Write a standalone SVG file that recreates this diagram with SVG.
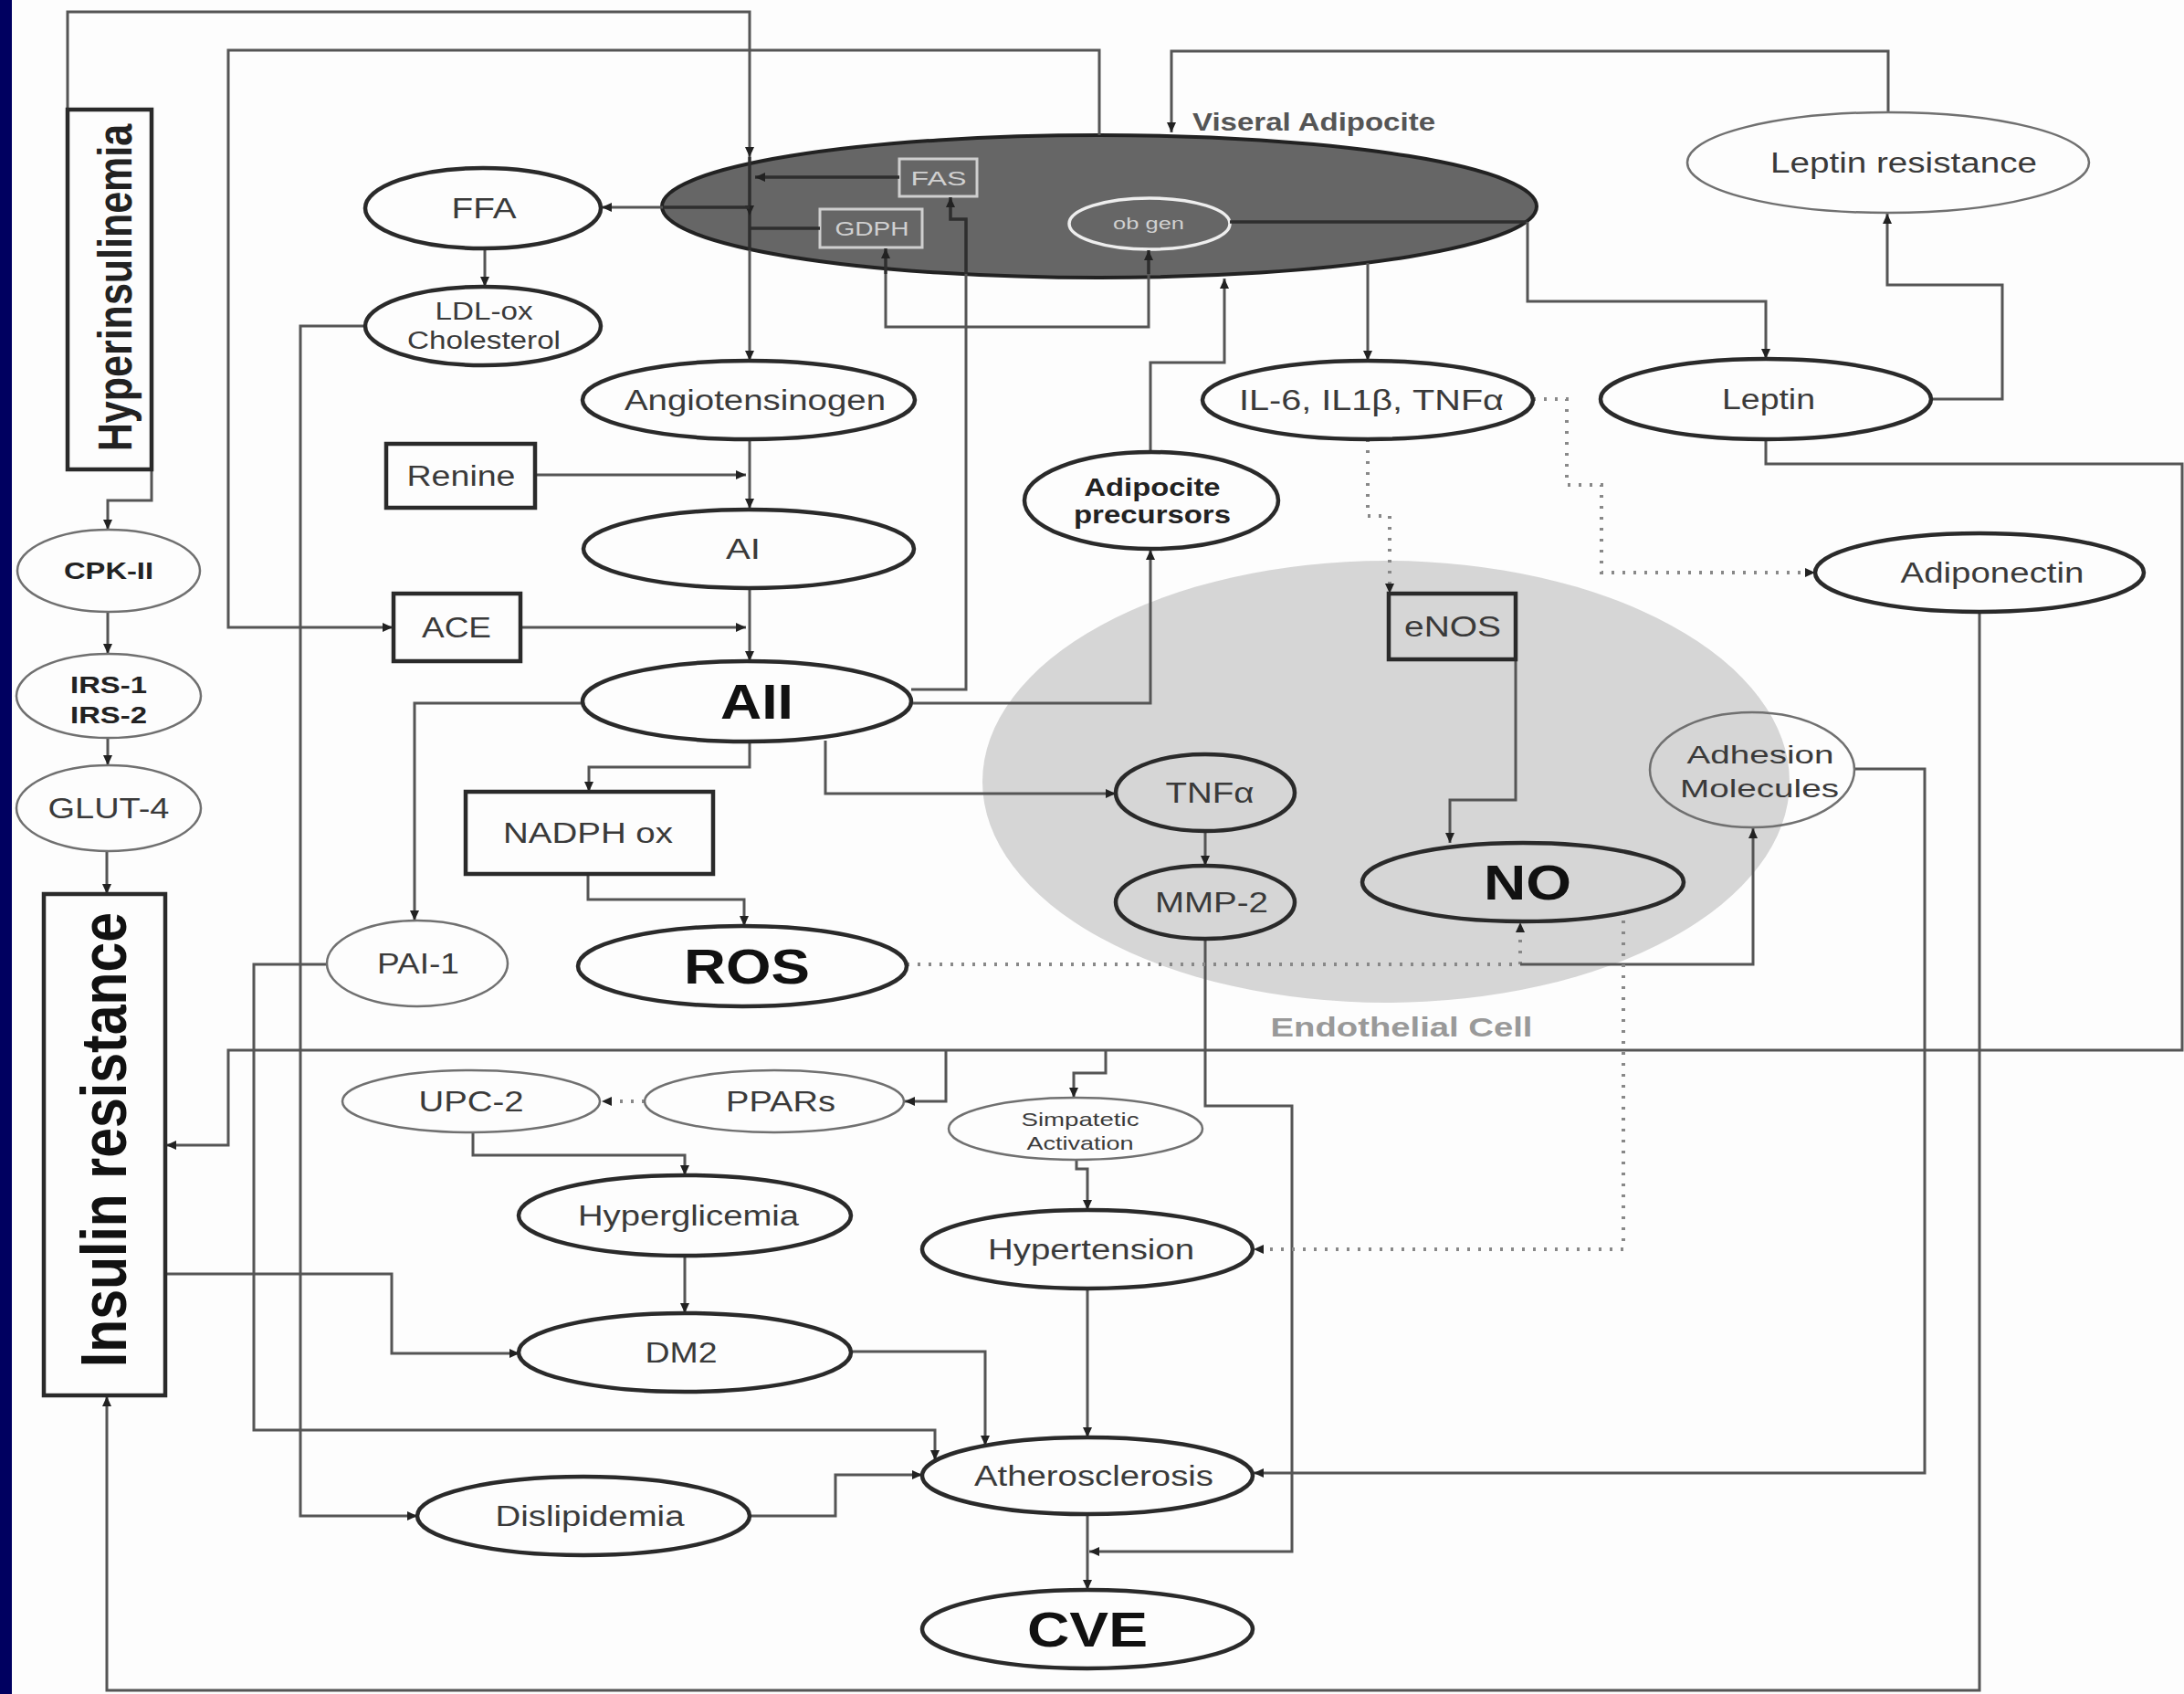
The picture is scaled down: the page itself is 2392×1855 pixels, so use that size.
<svg xmlns="http://www.w3.org/2000/svg" width="2392" height="1855" viewBox="0 0 2392 1855">
<defs>
<marker id="ar" markerUnits="userSpaceOnUse" markerWidth="12" markerHeight="12" refX="11" refY="6" orient="auto-start-reverse"><path d="M0,1 L11,6 L0,11 z" fill="#222"/></marker>
<style>
.bg{fill:#fdfdfd}
.c{fill:none;stroke:#555;stroke-width:3}
.ci{fill:none;stroke:#2e2e2e;stroke-width:3.5}
.d{fill:none;stroke:#888;stroke-width:4;stroke-dasharray:3 9}
.tk{fill:#fdfdfd;stroke:#2a2a2a;stroke-width:4.5}
.tn{fill:#fdfdfd;stroke:#707070;stroke-width:2.5}
.ge{fill:none;stroke:#2a2a2a;stroke-width:4.5}
.gt{fill:none;stroke:#707070;stroke-width:2.5}
.t{font-family:"Liberation Sans",Arial,sans-serif;font-size:31px;fill:#3a3a3a;text-anchor:middle}
.b{font-weight:bold}
.big{font-family:"Liberation Sans",Arial,sans-serif;font-size:54px;font-weight:bold;fill:#111;text-anchor:middle}
.in{font-family:"Liberation Sans",Arial,sans-serif;fill:#d0d0d0;text-anchor:middle}
</style>
</defs>
<rect class="bg" x="0" y="0" width="2392" height="1855"/>
<rect x="0" y="0" width="13" height="1855" fill="#000060"/>

<g id="endothelial-cell">
<ellipse cx="1518" cy="856" rx="442" ry="242" fill="#d6d6d6"/>
<text class="t b" x="1535" y="1135" style="font-size:30px;fill:#999" textLength="287" lengthAdjust="spacingAndGlyphs">Endothelial Cell</text>
</g>

<g id="visceral-adipocyte">
<ellipse cx="1204" cy="226" rx="479" ry="78" fill="#666" stroke="#222" stroke-width="4"/>
<text class="t b" x="1439" y="143" style="font-size:28px;fill:#555" textLength="266" lengthAdjust="spacingAndGlyphs">Viseral Adipocite</text>
</g>
<g id="fas"><rect x="985" y="174" width="85" height="41" fill="none" stroke="#cfcfcf" stroke-width="3"/><text class="in" x="1028" y="203" style="font-size:22px" textLength="61" lengthAdjust="spacingAndGlyphs">FAS</text></g>
<g id="gdph"><rect x="898" y="229" width="112" height="42" fill="none" stroke="#cfcfcf" stroke-width="3"/><text class="in" x="955" y="258" style="font-size:22px" textLength="81" lengthAdjust="spacingAndGlyphs">GDPH</text></g>
<g id="ob-gen"><ellipse cx="1259" cy="245" rx="88" ry="28" fill="none" stroke="#eee" stroke-width="3.5"/><text class="in" x="1258" y="251" style="font-size:18px" textLength="78" lengthAdjust="spacingAndGlyphs">ob gen</text></g>

<g id="connectors">
<path class="c" d="M74,120 V13 H821 V172" marker-end="url(#ar)"/>
<path class="ci" d="M821,172 V236" marker-end="url(#ar)"/>
<path class="ci" d="M821,236 V274"/>
<path class="c" d="M821,274 V395" marker-end="url(#ar)"/>
<path class="ci" d="M985,194 H827" marker-end="url(#ar)"/>
<path class="ci" d="M898,250 H821"/>
<path class="ci" d="M821,227 H726"/>
<path class="c" d="M726,227 H659" marker-end="url(#ar)"/>
<path class="c" d="M998,755 H1058 V300"/>
<path class="ci" d="M1058,300 V240 H1041 V216" marker-end="url(#ar)"/>
<path class="c" d="M1258,300 V358 H970 V300"/>
<path class="ci" d="M970,300 V272" marker-end="url(#ar)"/>
<path class="ci" d="M1258,300 V274" marker-end="url(#ar)"/>
<path class="ci" d="M1347,243 H1673"/>
<path class="c" d="M1673,243 V330 H1934 V393" marker-end="url(#ar)"/>
<path class="c" d="M586,520 H817" marker-end="url(#ar)"/>
<path class="c" d="M570,687 H817" marker-end="url(#ar)"/>
<path class="c" d="M1204,148 V55 H250 V687 H430" marker-end="url(#ar)"/>
<path class="c" d="M821,481 V557" marker-end="url(#ar)"/>
<path class="c" d="M821,644 V724" marker-end="url(#ar)"/>
<path class="c" d="M998,770 H1260 V602" marker-end="url(#ar)"/>
<path class="c" d="M1260,494 V397 H1341 V305" marker-end="url(#ar)"/>
<path class="c" d="M638,770 H454 V1008" marker-end="url(#ar)"/>
<path class="c" d="M821,812 V840 H645 V867" marker-end="url(#ar)"/>
<path class="c" d="M644,957 V985 H815 V1014" marker-end="url(#ar)"/>
<path class="c" d="M904,811 V869 H1222" marker-end="url(#ar)"/>
<path class="c" d="M1320,910 V948" marker-end="url(#ar)"/>
<path class="c" d="M1320,1028 V1211 H1415 V1699 H1193" marker-end="url(#ar)"/>
<path class="d" d="M993,1056 H1665 V1010" marker-end="url(#ar)"/>
<path class="c" d="M1665,1056 H1920 V907" marker-end="url(#ar)"/>
<path class="d" d="M1498,481 V565 H1522 V650" marker-end="url(#ar)"/>
<path class="d" d="M1679,437 H1716 V531 H1754 V627 H1988" marker-end="url(#ar)"/>
<path class="c" d="M1660,722 V876 H1588 V923" marker-end="url(#ar)"/>
<path class="d" d="M1778,1008 V1368 H1373" marker-end="url(#ar)"/>
<path class="c" d="M2031,842 H2108 V1613 H1373" marker-end="url(#ar)"/>
<path class="c" d="M2115,437 H2193 V312 H2067 V234" marker-end="url(#ar)"/>
<path class="c" d="M2068,123 V56 H1283 V145" marker-end="url(#ar)"/>
<path class="c" d="M1498,288 V395" marker-end="url(#ar)"/>
<path class="c" d="M531,272 V314" marker-end="url(#ar)"/>
<path class="c" d="M400,357 H329 V1660 H457" marker-end="url(#ar)"/>
<path class="c" d="M357,1056 H278 V1566 H1024 V1599" marker-end="url(#ar)"/>
<path class="c" d="M932,1480 H1079 V1583" marker-end="url(#ar)"/>
<path class="c" d="M821,1660 H915 V1615 H1010" marker-end="url(#ar)"/>
<path class="c" d="M1191,1411 V1574" marker-end="url(#ar)"/>
<path class="c" d="M1191,1658 V1741" marker-end="url(#ar)"/>
<path class="c" d="M1179,1270 V1280 H1191 V1325" marker-end="url(#ar)"/>
<path class="c" d="M1934,481 V508 H2390 V1150 H250 V1254 H182" marker-end="url(#ar)"/>
<path class="c" d="M1036,1150 V1206 H991" marker-end="url(#ar)"/>
<path class="c" d="M1211,1150 V1175 H1176 V1202" marker-end="url(#ar)"/>
<path class="d" d="M706,1206 H659" marker-end="url(#ar)"/>
<path class="c" d="M518,1240 V1265 H750 V1287" marker-end="url(#ar)"/>
<path class="c" d="M750,1375 V1438" marker-end="url(#ar)"/>
<path class="c" d="M181,1395 H429 V1482 H569" marker-end="url(#ar)"/>
<path class="c" d="M2168,670 V1851 H117 V1529" marker-end="url(#ar)"/>
<path class="c" d="M166,514 V548 H118 V580" marker-end="url(#ar)"/>
<path class="c" d="M118,670 V716" marker-end="url(#ar)"/>
<path class="c" d="M118,808 V838" marker-end="url(#ar)"/>
<path class="c" d="M117,932 V979" marker-end="url(#ar)"/>
</g>

<g id="hyperinsulinemia"><rect class="tk" x="74" y="120" width="92" height="394"/><text class="t b" transform="translate(144,315) scale(1.2,1) rotate(-90)" style="font-size:43px;fill:#222">Hyperinsulinemia</text></g>
<g id="cpk-ii"><ellipse class="tn" cx="119" cy="625" rx="100" ry="45"/><text class="t b" x="119" y="634" style="font-size:26px;fill:#222" textLength="98" lengthAdjust="spacingAndGlyphs">CPK-II</text></g>
<g id="irs"><ellipse class="tn" cx="119" cy="762" rx="101" ry="46"/><text class="t b" x="119" y="759" style="font-size:26px;fill:#222" textLength="84" lengthAdjust="spacingAndGlyphs">IRS-1</text><text class="t b" x="119" y="792" style="font-size:26px;fill:#222" textLength="84" lengthAdjust="spacingAndGlyphs">IRS-2</text></g>
<g id="glut-4"><ellipse class="tn" cx="119" cy="885" rx="101" ry="47"/><text class="t" x="119" y="896" textLength="133" lengthAdjust="spacingAndGlyphs">GLUT-4</text></g>
<g id="insulin-resistance"><rect class="tk" x="48" y="979" width="133" height="549"/><text class="t b" transform="translate(138,1248) scale(1.2,1) rotate(-90)" style="font-size:59px;fill:#111">Insulin resistance</text></g>
<g id="ffa"><ellipse class="tk" cx="529" cy="228" rx="129" ry="44"/><text class="t" x="530" y="239" textLength="71" lengthAdjust="spacingAndGlyphs">FFA</text></g>
<g id="ldl-ox"><ellipse class="tk" cx="529" cy="357" rx="129" ry="43"/><text class="t" x="530" y="350" style="font-size:27px" textLength="107" lengthAdjust="spacingAndGlyphs">LDL-ox</text><text class="t" x="530" y="382" style="font-size:27px" textLength="168" lengthAdjust="spacingAndGlyphs">Cholesterol</text></g>
<g id="renine"><rect class="tk" x="423" y="486" width="163" height="70"/><text class="t" x="505" y="532" textLength="119" lengthAdjust="spacingAndGlyphs">Renine</text></g>
<g id="ace"><rect class="tk" x="431" y="650" width="139" height="74"/><text class="t" x="500" y="698" textLength="76" lengthAdjust="spacingAndGlyphs">ACE</text></g>
<g id="angiotensinogen"><ellipse class="tk" cx="820" cy="438" rx="182" ry="43"/><text class="t" x="827" y="449" textLength="286" lengthAdjust="spacingAndGlyphs">Angiotensinogen</text></g>
<g id="ai"><ellipse class="tk" cx="820" cy="601" rx="181" ry="43"/><text class="t" x="814" y="612" textLength="38" lengthAdjust="spacingAndGlyphs">AI</text></g>
<g id="aii"><ellipse class="tk" cx="818" cy="768" rx="180" ry="44"/><text class="big" x="829" y="787" textLength="80" lengthAdjust="spacingAndGlyphs">AII</text></g>
<g id="nadph-ox"><rect class="tk" x="510" y="867" width="271" height="90"/><text class="t" x="644" y="923" textLength="186" lengthAdjust="spacingAndGlyphs">NADPH ox</text></g>
<g id="ros"><ellipse class="tk" cx="813" cy="1058" rx="180" ry="44"/><text class="big" x="818" y="1077" textLength="138" lengthAdjust="spacingAndGlyphs">ROS</text></g>
<g id="pai-1"><ellipse class="tn" cx="457" cy="1055" rx="99" ry="47"/><text class="t" x="458" y="1066" textLength="90" lengthAdjust="spacingAndGlyphs">PAI-1</text></g>
<g id="adipocite-precursors"><ellipse class="tk" cx="1261" cy="548" rx="139" ry="53"/><text class="t b" x="1262" y="543" style="font-size:27px;fill:#222" textLength="149" lengthAdjust="spacingAndGlyphs">Adipocite</text><text class="t b" x="1262" y="573" style="font-size:27px;fill:#222" textLength="172" lengthAdjust="spacingAndGlyphs">precursors</text></g>
<g id="il6-il1b-tnfa"><ellipse class="tk" cx="1498" cy="438" rx="181" ry="43"/><text class="t" x="1502" y="449" textLength="290" lengthAdjust="spacingAndGlyphs">IL-6, IL1β,  TNFα</text></g>
<g id="leptin"><ellipse class="tk" cx="1934" cy="437" rx="181" ry="44"/><text class="t" x="1937" y="448" textLength="102" lengthAdjust="spacingAndGlyphs">Leptin</text></g>
<g id="leptin-resistance"><ellipse class="tn" cx="2068" cy="178" rx="220" ry="55"/><text class="t" x="2085" y="189" textLength="292" lengthAdjust="spacingAndGlyphs">Leptin resistance</text></g>
<g id="adiponectin"><ellipse class="tk" cx="2168" cy="627" rx="180" ry="43"/><text class="t" x="2182" y="638" textLength="201" lengthAdjust="spacingAndGlyphs">Adiponectin</text></g>
<g id="enos"><rect class="ge" x="1521" y="650" width="139" height="72"/><text class="t" x="1591" y="697" textLength="106" lengthAdjust="spacingAndGlyphs">eNOS</text></g>
<g id="tnfa"><ellipse class="ge" cx="1320" cy="868" rx="98" ry="42"/><text class="t" x="1325" y="879" textLength="97" lengthAdjust="spacingAndGlyphs">TNFα</text></g>
<g id="mmp-2"><ellipse class="ge" cx="1320" cy="988" rx="98" ry="40"/><text class="t" x="1327" y="999" textLength="124" lengthAdjust="spacingAndGlyphs">MMP-2</text></g>
<g id="no"><ellipse class="ge" cx="1668" cy="966" rx="176" ry="43"/><text class="big" x="1673" y="985" textLength="96" lengthAdjust="spacingAndGlyphs">NO</text></g>
<g id="adhesion-molecules"><ellipse class="gt" cx="1919" cy="843" rx="112" ry="63"/><text class="t" x="1928" y="836" style="font-size:28px" textLength="161" lengthAdjust="spacingAndGlyphs">Adhesion</text><text class="t" x="1927" y="873" style="font-size:28px" textLength="174" lengthAdjust="spacingAndGlyphs">Molecules</text></g>
<g id="upc-2"><ellipse class="tn" cx="516" cy="1206" rx="141" ry="34"/><text class="t" x="516" y="1217" textLength="115" lengthAdjust="spacingAndGlyphs">UPC-2</text></g>
<g id="ppars"><ellipse class="tn" cx="848" cy="1206" rx="142" ry="34"/><text class="t" x="855" y="1217" textLength="120" lengthAdjust="spacingAndGlyphs">PPARs</text></g>
<g id="simpatetic-activation"><ellipse class="tn" cx="1178" cy="1236" rx="139" ry="34"/><text class="t" x="1183" y="1233" style="font-size:21px" textLength="129" lengthAdjust="spacingAndGlyphs">Simpatetic</text><text class="t" x="1183" y="1259" style="font-size:21px" textLength="117" lengthAdjust="spacingAndGlyphs">Activation</text></g>
<g id="hyperglicemia"><ellipse class="tk" cx="750" cy="1331" rx="182" ry="44"/><text class="t" x="754" y="1342" textLength="242" lengthAdjust="spacingAndGlyphs">Hyperglicemia</text></g>
<g id="dm2"><ellipse class="tk" cx="750" cy="1481" rx="182" ry="43"/><text class="t" x="746" y="1492" textLength="79" lengthAdjust="spacingAndGlyphs">DM2</text></g>
<g id="hypertension"><ellipse class="tk" cx="1191" cy="1368" rx="181" ry="43"/><text class="t" x="1195" y="1379" textLength="226" lengthAdjust="spacingAndGlyphs">Hypertension</text></g>
<g id="dislipidemia"><ellipse class="tk" cx="639" cy="1660" rx="182" ry="43"/><text class="t" x="646" y="1671" textLength="207" lengthAdjust="spacingAndGlyphs">Dislipidemia</text></g>
<g id="atherosclerosis"><ellipse class="tk" cx="1191" cy="1616" rx="181" ry="42"/><text class="t" x="1198" y="1627" textLength="262" lengthAdjust="spacingAndGlyphs">Atherosclerosis</text></g>
<g id="cve"><ellipse class="tk" cx="1191" cy="1784" rx="181" ry="43"/><text class="big" x="1191" y="1803" textLength="132" lengthAdjust="spacingAndGlyphs">CVE</text></g>
</svg>
